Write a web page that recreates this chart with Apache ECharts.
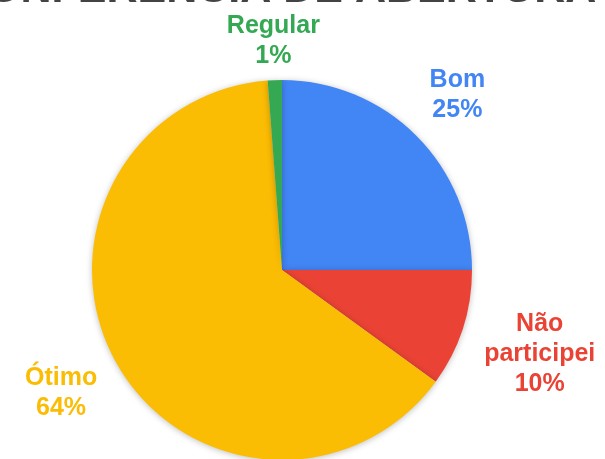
<!DOCTYPE html>
<html><head><meta charset="utf-8">
<script src="https://cdn.jsdelivr.net/npm/echarts@6/dist/echarts.min.js"></script>
<style>html,body{margin:0;padding:0;background:#fff}#c{width:605px;height:459px}</style>
</head><body><div id="c"></div>
<script>
var titleText = 'CONFERÊNCIA DE ABERTURA';
var categories = ['Bom', 'Não participei', 'Ótimo', 'Regular'];
var labelNames = ['Bom', 'Não\nparticipei', 'Ótimo', 'Regular'];
var values = [25, 10, 63.8, 1.2];
var colors = ['#4285F4', '#EA4335', '#FBBC04', '#34A853'];

var chart = echarts.init(document.getElementById('c'));
var cx = 282, cy = 270, R = 190;
var labelDist = [248, 271, 253, 229];
var total = values.reduce(function(a,b){return a+b;},0);
var mids = [], acc = 0;
values.forEach(function(v){ mids.push((acc + v/2)/total*2*Math.PI); acc += v; });

chart.setOption({
  animation: false,
  graphic: [{
    type: 'text', left: -44, top: -31,
    style: { text: titleText, font: 'bold 43px "Liberation Sans", Arial, sans-serif', fill: '#434343' }
  }],
  series: [{
    type: 'pie',
    center: [cx, cy], radius: [0, R],
    startAngle: 90, clockwise: true,
    avoidLabelOverlap: false,
    itemStyle: { borderWidth: 0, shadowBlur: 6, shadowColor: 'rgba(0,0,0,0.25)', shadowOffsetY: 1 },
    label: {
      show: true, position: 'outside',
      fontFamily: '"Liberation Sans", Arial, sans-serif', fontWeight: 'bold', fontSize: 25, lineHeight: 30,
      align: 'center',
      formatter: function(p){ return labelNames[p.dataIndex] + '\n' + Math.round(p.percent) + '%'; }
    },
    labelLine: { show: false },
    labelLayout: function(p){
      var a = mids[p.dataIndex], d = labelDist[p.dataIndex];
      return { x: cx + d*Math.sin(a), y: cy - d*Math.cos(a), align: 'center', verticalAlign: 'middle' };
    },
    data: categories.map(function(n,i){
      return { name: n, value: values[i], itemStyle: { color: colors[i] }, label: { color: colors[i] } };
    })
  }]
});
</script></body></html>
